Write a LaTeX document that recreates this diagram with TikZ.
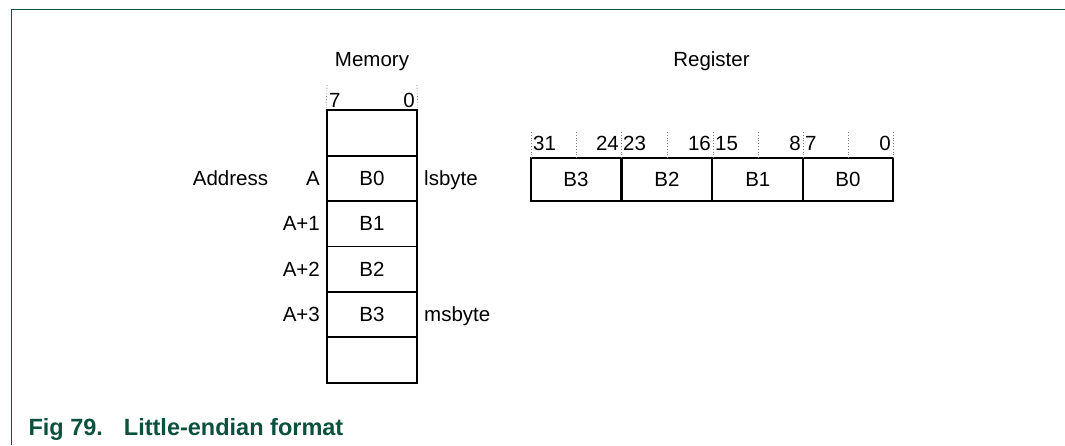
\documentclass[tikz,border=0pt]{standalone}
\usepackage{fontspec}
\setmainfont{Liberation Sans}
\definecolor{nxpgreen}{RGB}{12,80,62}
\begin{document}
\begin{tikzpicture}[x=1pt,y=-1pt,
  every node/.style={font=\fontsize{20.5}{24}\selectfont},
  cell/.style={draw=black,line width=1.8pt,minimum width=90pt,inner sep=0pt},
  memcell/.style={cell,minimum height=45.4pt},
  regcell/.style={cell,minimum width=90.6pt,minimum height=43pt},
  lbl/.style={inner sep=0pt},
  bitline/.style={gray,dotted,line width=0.8pt},
  frame/.style={nxpgreen,line width=1.3pt}]
\useasboundingbox (0,0) rectangle (1065,445);
% frame
\coordinate (ftl) at (11.3,9.3);
\coordinate (ftr) at (1065,9.3);
\coordinate (fbl) at (11.3,445);
\draw[frame] (fbl) -- (ftl) -- (ftr);
% titles
\node[lbl,anchor=base] (memt) at (372,66) {Memory};
\node[lbl,anchor=base] (regt) at (711.5,66) {Register};
% memory cells
\node[memcell] (m0) at (372,133) {};
\node[memcell] (m1) at (372,178.4) {B0};
\node[memcell] (m2) at (372,223.8) {B1};
\node[memcell] (m3) at (372,269.2) {B2};
\node[memcell] (m4) at (372,314.6) {B3};
\node[memcell] (m5) at (372,360) {};
% memory bit lines
\coordinate (mdl) at (327,85);
\coordinate (mdr) at (417,85);
\draw[bitline] (mdl) -- (m0.north west);
\draw[bitline] (mdr) -- (m0.north east);
\node[lbl,anchor=base west] (b7) at (329,107) {7};
\node[lbl,anchor=base east] (b0) at (415,107) {0};
% address labels
\node[lbl,anchor=base] (addr) at (230.5,185) {Address};
\node[lbl,anchor=base east] (aA) at (320,185) {A};
\node[lbl,anchor=base east] (aA1) at (320,230.5) {A+1};
\node[lbl,anchor=base east] (aA2) at (320,276) {A+2};
\node[lbl,anchor=base east] (aA3) at (320,321.5) {A+3};
\node[lbl,anchor=base west] (lsb) at (424,185) {lsbyte};
\node[lbl,anchor=base west] (msb) at (424,321.5) {msbyte};
% register cells
\node[regcell] (r3) at (576,179.5) {B3};
\node[regcell] (r2) at (667,179.5) {B2};
\node[regcell] (r1) at (757.8,179.5) {B1};
\node[regcell] (r0) at (848,179.5) {B0};
% register bit lines
\foreach \x/\n in {531/a,576/b,621/c,667/d,713/e,758/f,803/g,848/h,893/i}{
  \coordinate (rt\n) at (\x,132);
  \coordinate (rb\n) at (\x,158);
  \draw[bitline] (rt\n) -- (rb\n);
}
\node[lbl,anchor=base west] (r31) at (533,150) {31};
\node[lbl,anchor=base east] (r24) at (619,150) {24};
\node[lbl,anchor=base west] (r23) at (623,150) {23};
\node[lbl,anchor=base east] (r16) at (711,150) {16};
\node[lbl,anchor=base west] (r15) at (715,150) {15};
\node[lbl,anchor=base east] (r8) at (801,150) {8};
\node[lbl,anchor=base west] (r7) at (805,150) {7};
\node[lbl,anchor=base east] (r00) at (891,150) {0};
% caption
\node[lbl,anchor=base west,text=nxpgreen,font=\fontsize{23.5}{27}\selectfont\bfseries] (cap) at (28.3,435) {Fig 79.\hspace*{21pt}Little-endian format};
\end{tikzpicture}
\end{document}
